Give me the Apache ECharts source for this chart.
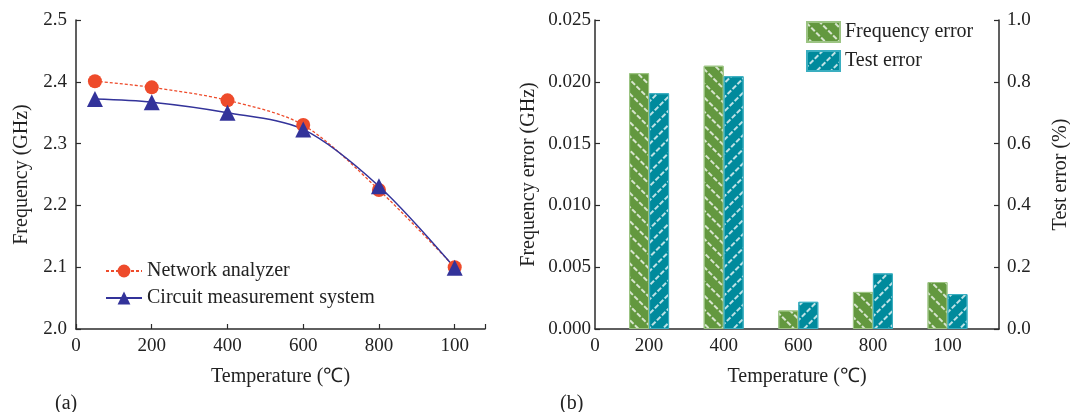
<!DOCTYPE html>
<html>
<head>
<meta charset="utf-8">
<script src="https://cdn.jsdelivr.net/npm/echarts@6/dist/echarts.min.js"></script>
<style>
  html, body { margin: 0; padding: 0; background: #fff; }
  #main { width: 1070px; height: 412px; }
</style>
</head>
<body>
<div id="main"></div>
<script>
// (a) frequency vs temperature
var temps = [50, 200, 400, 600, 800, 1000];
var networkAnalyzer = [2.401, 2.391, 2.370, 2.330, 2.225, 2.100];
var circuitSystem = [2.372, 2.367, 2.350, 2.323, 2.231, 2.099];
var xTickValues = [0, 200, 400, 600, 800, 1000];
var xTickLabels = ['0', '200', '400', '600', '800', '100'];

// (b) errors
var barTemps = [200, 400, 600, 800, 1000];
var freqError = [0.0207, 0.0213, 0.0015, 0.0030, 0.0038];
var testError = [0.763, 0.818, 0.088, 0.180, 0.113];

var font = "'Liberation Serif', 'Times New Roman', serif";
var axisCol = '#2b2b2b';

function pairs(xs, ys) {
  return xs.map(function (x, i) { return [x, ys[i]]; });
}
function tickLabel(v) {
  var i = xTickValues.indexOf(v);
  return i >= 0 ? xTickLabels[i] : '';
}

var rightMin = 55;

var myChart = echarts.init(document.getElementById('main'));

var baseLine = { lineStyle: { color: axisCol, width: 1.5 } };
var labelStyle = { color: '#222', fontFamily: font, fontSize: 19 };
var nameStyle = { color: '#222', fontFamily: font, fontSize: 20 };
var tickIn = { show: true, inside: true, length: 5, lineStyle: { color: axisCol, width: 1.2 } };

var option = {
  animation: false,
  title: [
    { text: '(a)', left: 50, top: 389, textStyle: { fontFamily: font, fontSize: 20, fontWeight: 'normal', color: '#222' } },
    { text: '(b)', left: 555, top: 389, textStyle: { fontFamily: font, fontSize: 20, fontWeight: 'normal', color: '#222' } }
  ],
  legend: [
    {
      left: 100, top: 255, orient: 'vertical',
      itemWidth: 36, itemHeight: 16, itemGap: 5,
      textStyle: { fontFamily: font, fontSize: 20, color: '#222', lineHeight: 22 },
      data: ['Network analyzer', 'Circuit measurement system']
    },
    {
      left: 801, top: 16, orient: 'vertical', icon: 'rect',
      itemWidth: 33, itemHeight: 20, itemGap: 7,
      textStyle: { fontFamily: font, fontSize: 20, color: '#222', lineHeight: 21 },
      data: ['Frequency error', 'Test error']
    }
  ],
  grid: [
    { left: 76, top: 20, width: 409, height: 309, outerBoundsMode: 'none' },
    { left: 595, top: 20, width: 404, height: 309, outerBoundsMode: 'none' }
  ],
  xAxis: [
    {
      gridIndex: 0, type: 'value', min: 0, max: 1080, interval: 200,
      name: 'Temperature (℃)', nameLocation: 'middle', nameGap: 38, nameTextStyle: nameStyle,
      axisLine: baseLine,
      axisTick: tickIn,
      axisLabel: Object.assign({ margin: 8, formatter: tickLabel }, labelStyle),
      splitLine: { show: false }
    },
    {
      gridIndex: 1, type: 'value', min: rightMin, max: 1138,
      name: 'Temperature (℃)', nameLocation: 'middle', nameGap: 38, nameTextStyle: nameStyle,
      axisLine: baseLine,
      axisTick: { show: false },
      axisLabel: Object.assign({
        margin: 8,
        customValues: [rightMin].concat(barTemps),
        formatter: function (v) { return v === rightMin ? '0' : tickLabel(v); }
      }, labelStyle),
      splitLine: { show: false }
    }
  ],
  yAxis: [
    {
      gridIndex: 0, type: 'value', min: 2.0, max: 2.5, interval: 0.1,
      name: 'Frequency (GHz)', nameLocation: 'middle', nameGap: 44, nameTextStyle: nameStyle,
      axisLine: Object.assign({ show: true }, baseLine),
      axisTick: tickIn,
      axisLabel: Object.assign({ margin: 9, formatter: function (v) { return v.toFixed(1); } }, labelStyle),
      splitLine: { show: false }
    },
    {
      gridIndex: 1, type: 'value', min: 0, max: 0.025, interval: 0.005,
      name: 'Frequency error (GHz)', nameLocation: 'middle', nameGap: 56, nameTextStyle: nameStyle,
      axisLine: Object.assign({ show: true }, baseLine),
      axisTick: tickIn,
      axisLabel: Object.assign({ margin: 4, formatter: function (v) { return v.toFixed(3); } }, labelStyle),
      splitLine: { show: false }
    },
    {
      gridIndex: 1, type: 'value', position: 'right', min: 0, max: 1.0, interval: 0.2,
      name: 'Test error (%)', nameLocation: 'middle', nameGap: 52, nameTextStyle: nameStyle,
      axisLine: Object.assign({ show: true }, baseLine),
      axisTick: tickIn,
      axisLabel: Object.assign({ margin: 8, formatter: function (v) { return v.toFixed(1); } }, labelStyle),
      splitLine: { show: false }
    }
  ],
  series: [
    {
      name: 'Network analyzer', type: 'line', xAxisIndex: 0, yAxisIndex: 0,
      smooth: 0.3, symbol: 'circle', symbolSize: 14,
      itemStyle: { color: '#ee4b2b' },
      lineStyle: { color: '#ee4b2b', width: 1.3, type: [3, 2] },
      data: pairs(temps, networkAnalyzer)
    },
    {
      name: 'Circuit measurement system', type: 'line', xAxisIndex: 0, yAxisIndex: 0,
      smooth: 0.3, symbol: 'triangle', symbolSize: 16,
      itemStyle: { color: '#33339a' },
      lineStyle: { color: '#33339a', width: 1.5 },
      data: pairs(temps, circuitSystem)
    },
    {
      name: 'Frequency error', type: 'bar', xAxisIndex: 1, yAxisIndex: 1,
      barWidth: 20, barGap: '0%',
      itemStyle: {
        color: '#63983f', borderColor: '#9cc483', borderWidth: 1,
        decal: { symbol: 'rect', symbolSize: 1, dashArrayX: [[5, 2]], dashArrayY: [1.2, 8], rotation: Math.PI / 4, color: 'rgba(255,255,255,0.75)' }
      },
      data: pairs(barTemps, freqError)
    },
    {
      name: 'Test error', type: 'bar', xAxisIndex: 1, yAxisIndex: 2,
      barWidth: 20, barGap: '0%',
      itemStyle: {
        color: '#008a9c', borderColor: '#3aaec0', borderWidth: 1,
        decal: { symbol: 'rect', symbolSize: 1, dashArrayX: [[5, 2]], dashArrayY: [1.2, 8], rotation: -Math.PI / 4, color: 'rgba(255,255,255,0.75)' }
      },
      data: pairs(barTemps, testError)
    }
  ]
};
myChart.setOption(option);
</script>
</body>
</html>
